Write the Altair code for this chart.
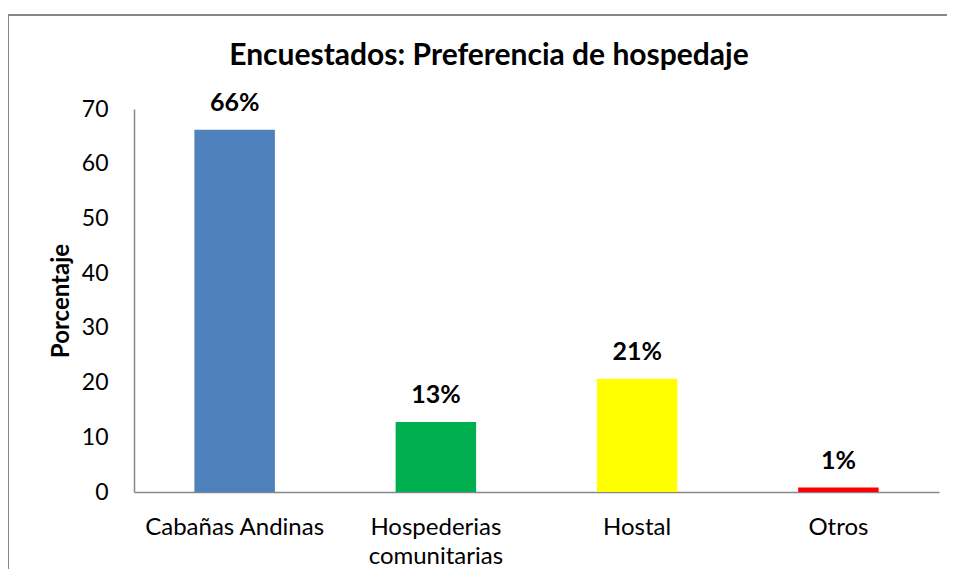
import altair as alt
import pandas as pd

categories = ["Cabañas Andinas", "Hospederias comunitarias", "Hostal", "Otros"]
values = [66.2, 12.8, 20.7, 0.8]
labels = ["66%", "13%", "21%", "1%"]
colors = ["#4F81BD", "#00B050", "#FFFF00", "#FF0000"]
title_text = "Encuestados: Preferencia de hospedaje"

df = pd.DataFrame({"cat": categories, "val": values, "lab": labels, "col": colors})

FONT = "Lato"

x_enc = alt.X(
    "cat:N",
    sort=categories,
    scale=alt.Scale(paddingInner=0.6, paddingOuter=0.3),
    axis=alt.Axis(
        title=None,
        labelAngle=0,
        ticks=False,
        labelPadding=35,
        labelFontSize=24,
        labelFont=FONT,
        labelColor="#000000",
        labelLineHeight=29,
        labelBaseline="middle",
        domainColor="#868686",
        domainWidth=1.5,
        labelExpr="datum.label == 'Hospederias comunitarias' ? ['Hospederias', 'comunitarias'] : datum.label",
    ),
)
y_enc = alt.Y(
    "val:Q",
    scale=alt.Scale(domain=[0, 70]),
    axis=alt.Axis(
        title="Porcentaje",
        values=[0, 10, 20, 30, 40, 50, 60, 70],
        grid=False,
        ticks=False,
        labelPadding=26,
        labelFontSize=23,
        labelFont=FONT,
        labelColor="#000000",
        titleFont=FONT,
        titleFontSize=24,
        titleFontWeight="bold",
        titleColor="#000000",
        titlePadding=8,
        domainColor="#868686",
        domainWidth=1.5,
    ),
)

bars = alt.Chart(df).mark_bar().encode(
    x=x_enc,
    y=y_enc,
    color=alt.Color("col:N", scale=None),
)

text = alt.Chart(df).mark_text(
    baseline="alphabetic", dy=-19, fontSize=25, fontWeight="bold", font=FONT, color="#000000"
).encode(
    x=alt.X("cat:N", sort=categories),
    y="val:Q",
    text="lab:N",
)

title = alt.Chart(pd.DataFrame({"t": [title_text]})).mark_text(
    baseline="alphabetic", align="center", fontSize=30, fontWeight="bold", font=FONT, color="#000000", clip=False
).encode(
    x=alt.value(355), y=alt.value(-44), text="t:N"
)

border_top = alt.Chart(df).mark_rule(color="#868686", strokeWidth=1.5, clip=False).encode(
    x=alt.value(-126), x2=alt.value(900), y=alt.value(-94)
)
border_left = alt.Chart(df).mark_rule(color="#868686", strokeWidth=1.5, clip=False).encode(
    x=alt.value(-126), y=alt.value(-94), y2=alt.value(600)
)

chart = alt.layer(border_top, border_left, bars, text, title).properties(
    width=805,
    height=383,
    background="#ffffff",
    autosize=alt.AutoSizeParams(type="none"),
    padding={"left": 126, "top": 101, "right": 8, "bottom": 77},
).configure_view(stroke=None, strokeWidth=0)

chart.save("out.html", embed_options={"renderer": "svg", "actions": False})
